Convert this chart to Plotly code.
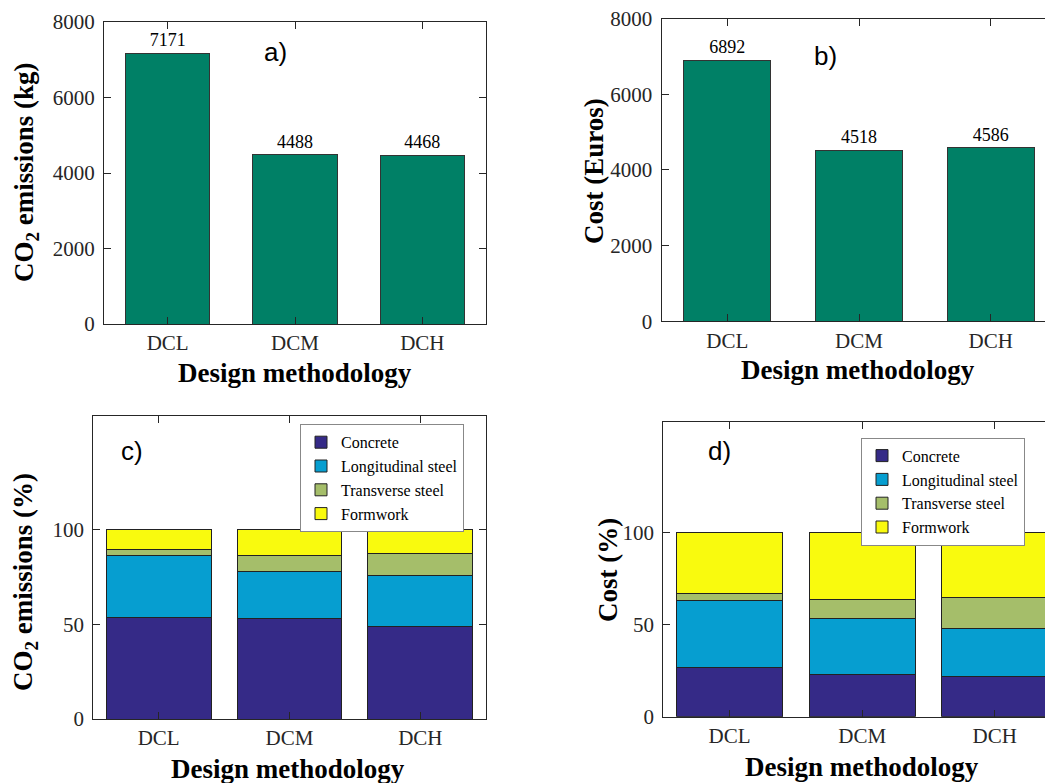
import plotly.graph_objects as go

W, H = 1053, 783
OFF = 8  # page body margin

categories = ["DCL", "DCM", "DCH"]
co2_total = [7171, 4488, 4468]
cost_total = [6892, 4518, 4586]

components = ["Concrete", "Longitudinal steel", "Transverse steel", "Formwork"]
co2_concrete = [53.8, 53.1, 49.0]
co2_long = [32.3, 24.7, 26.8]
co2_trans = [3.2, 8.8, 11.5]
co2_form = [10.7, 13.4, 12.7]

cost_concrete = [27.0, 23.2, 22.1]
cost_long = [36.3, 30.3, 25.9]
cost_trans = [3.9, 10.3, 16.9]
cost_form = [32.8, 36.2, 35.1]

comp_colors = ["#352a87", "#069ed0", "#a5be6a", "#f9fa0e"]
bar_green = "#008066"

SERIF = "Liberation Serif"
SANS = "Liberation Sans"
TICKC = "#262626"


def px(x):
    return (x - OFF) / W


def py(y):
    return 1 - (y - OFF) / H


fig = go.Figure()

fig.add_trace(go.Bar(x=categories, y=co2_total, width=0.66, marker=dict(color=bar_green, line=dict(color="#333333", width=1)),
                     text=co2_total, texttemplate="%{text}", textposition="outside", cliponaxis=False,
                     textfont=dict(family=SERIF, size=18, color="black"), showlegend=False, xaxis="x", yaxis="y"))
fig.add_trace(go.Bar(x=categories, y=cost_total, width=0.66, marker=dict(color=bar_green, line=dict(color="#333333", width=1)),
                     text=cost_total, texttemplate="%{text}", textposition="outside", cliponaxis=False,
                     textfont=dict(family=SERIF, size=18, color="black"), showlegend=False, xaxis="x2", yaxis="y2"))

co2_parts = [co2_concrete, co2_long, co2_trans, co2_form]
cost_parts = [cost_concrete, cost_long, cost_trans, cost_form]
for name, vals, col in zip(components, co2_parts, comp_colors):
    fig.add_trace(go.Bar(x=categories, y=vals, name=name, width=0.8,
                         marker=dict(color=col, line=dict(color="#222222", width=1)),
                         xaxis="x3", yaxis="y3", legend="legend"))
for name, vals, col in zip(components, cost_parts, comp_colors):
    fig.add_trace(go.Bar(x=categories, y=vals, name=name, width=0.8,
                         marker=dict(color=col, line=dict(color="#222222", width=1)),
                         xaxis="x4", yaxis="y4", legend="legend2"))


def xax(domain, rng, anchor):
    return dict(domain=domain, range=rng, anchor=anchor, type="category", automargin=False,
                showline=True, linecolor=TICKC, linewidth=1, mirror="ticks",
                ticks="inside", ticklen=7, tickcolor=TICKC,
                tickfont=dict(family=SERIF, size=21, color=TICKC), ticklabelstandoff=0,
                ticklabeloverflow="allow",
                showgrid=False, zeroline=False, fixedrange=True)


def yax(domain, rng, tickvals, anchor):
    return dict(domain=domain, range=rng, anchor=anchor, tickvals=tickvals, automargin=False,
                showline=True, linecolor=TICKC, linewidth=1, mirror="ticks",
                ticks="inside", ticklen=7, tickcolor=TICKC,
                tickfont=dict(family=SERIF, size=21, color=TICKC), ticklabelstandoff=4,
                ticklabeloverflow="allow",
                showgrid=False, zeroline=False, fixedrange=True)


legend_font = dict(family=SERIF, size=16, color="black")
legend_common = dict(xanchor="left", yanchor="top", traceorder="normal",
                     bgcolor="white", bordercolor="#888888", borderwidth=1,
                     font=legend_font, tracegroupgap=0, itemwidth=30)

fig.update_layout(
    template="none",
    font=dict(family=SERIF, size=16, color="black"),
    width=W, height=H, autosize=False,
    margin=dict(l=0, r=0, t=0, b=0, pad=0, autoexpand=False),
    paper_bgcolor="white", plot_bgcolor="white",
    barmode="stack",
    xaxis=xax([px(104), px(486)], [-0.5, 2.5], "y"),
    yaxis=yax([py(324), py(22)], [0, 8000], [0, 2000, 4000, 6000, 8000], "x"),
    xaxis2=xax([px(661.5), px(1056.5)], [-0.5, 2.5], "y2"),
    yaxis2=yax([py(321.3), py(18.5)], [0, 8000], [0, 2000, 4000, 6000, 8000], "x2"),
    xaxis3=xax([px(93.3), px(485.7)], [-0.5, 2.5], "y3"),
    yaxis3=yax([py(719), py(416)], [0, 160], [0, 50, 100], "x3"),
    xaxis4=xax([px(663.3), px(1061)], [-0.5, 2.5], "y4"),
    yaxis4=yax([py(716.7), py(422.3)], [0, 160], [0, 50, 100], "x4"),
    legend=dict(x=px(300), y=py(424.3), **legend_common),
    legend2=dict(x=px(861), y=py(437.7), **legend_common),
)

ann = []
title_font = dict(family=SERIF, size=27, color="black")
ann.append(dict(text="<b>CO<sub>2</sub> emissions (kg)</b>", x=px(26), y=py(173), textangle=-90))
ann.append(dict(text="<b>Cost (Euros)</b>", x=px(594), y=py(171), textangle=-90))
ann.append(dict(text="<b>CO<sub>2</sub> emissions (%)</b>", x=px(25), y=py(582), textangle=-90))
ann.append(dict(text="<b>Cost (%)</b>", x=px(608), y=py(570), textangle=-90))
ann.append(dict(text="<b>Design methodology</b>", x=px(295), y=py(373)))
ann.append(dict(text="<b>Design methodology</b>", x=px(858), y=py(370)))
ann.append(dict(text="<b>Design methodology</b>", x=px(288), y=py(769)))
ann.append(dict(text="<b>Design methodology</b>", x=px(862), y=py(767)))
for a in ann:
    a.update(xref="paper", yref="paper", showarrow=False, font=title_font,
             xanchor="center", yanchor="middle")

letter_font = dict(family=SANS, size=26, color="black")
for txt, x, y in [("a)", 275, 52), ("b)", 825, 56), ("c)", 132, 451), ("d)", 719, 451)]:
    ann.append(dict(text=txt, x=px(x), y=py(y), xref="paper", yref="paper", showarrow=False,
                    font=letter_font, xanchor="center", yanchor="middle"))

fig.update_layout(annotations=ann)

fig.write_html("out.html")
